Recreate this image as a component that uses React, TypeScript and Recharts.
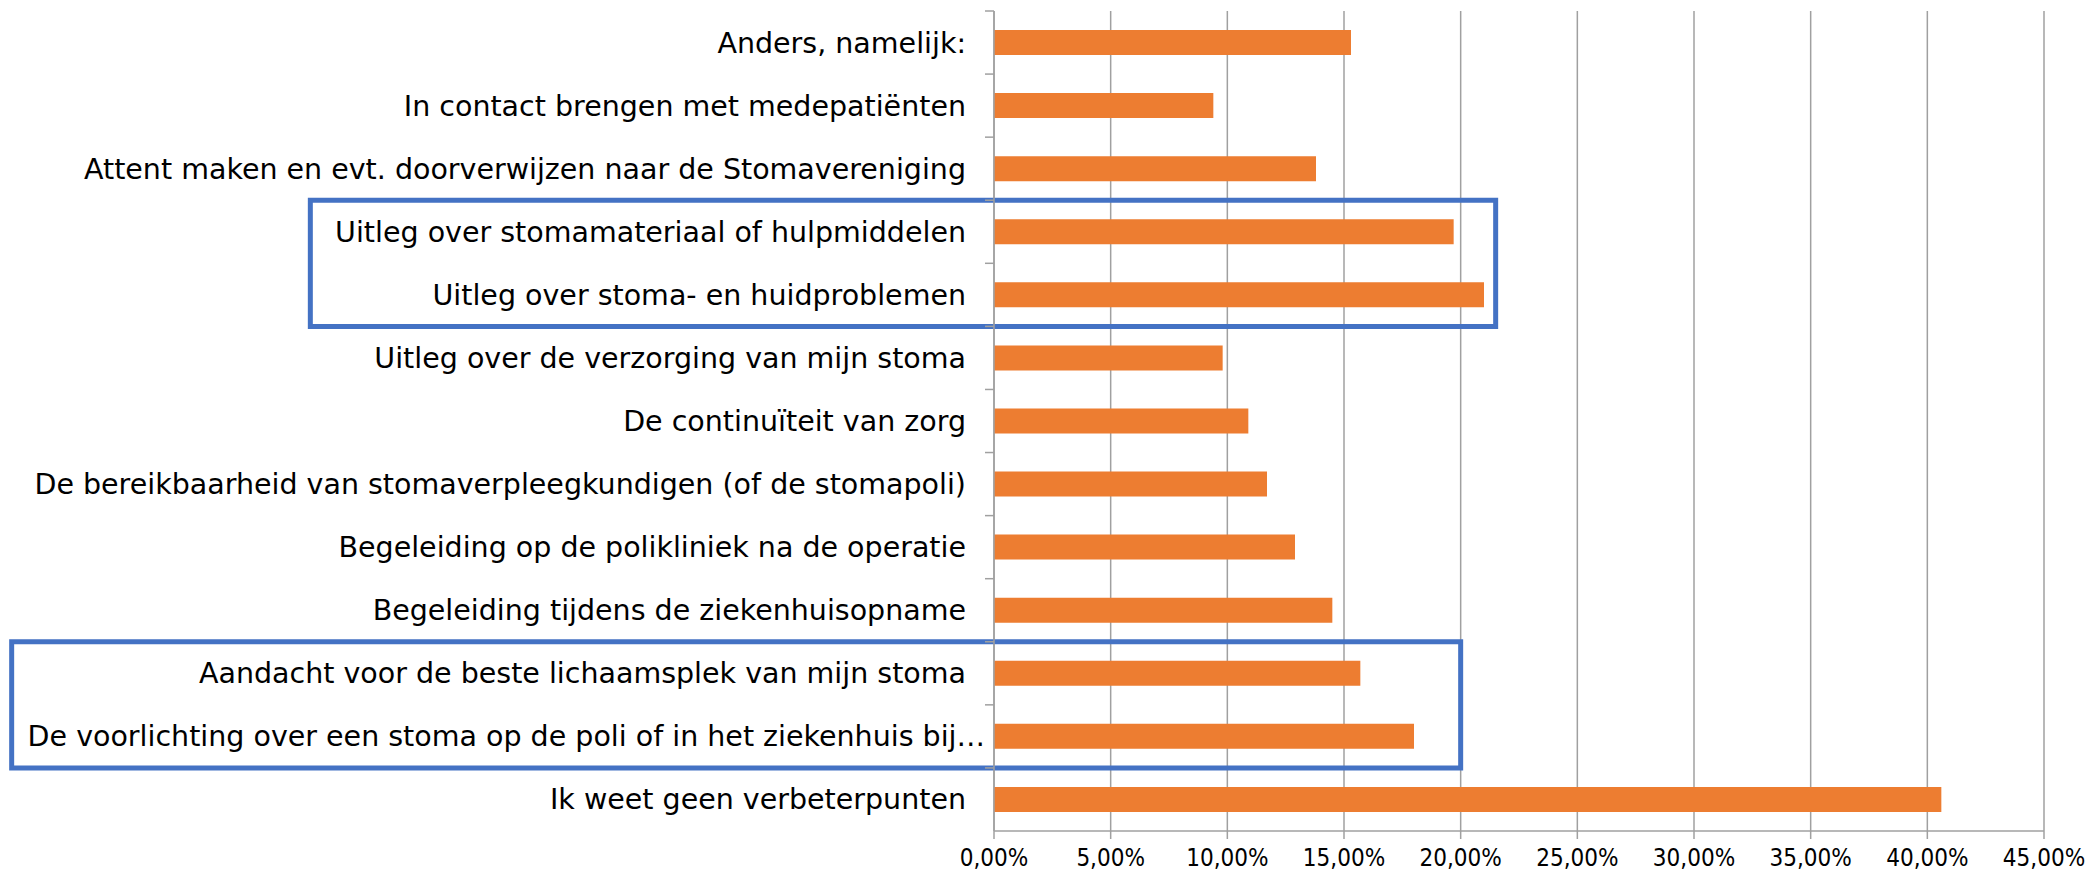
import { Bar, BarChart, CartesianGrid, ReferenceArea, XAxis, YAxis } from 'recharts'

const LABELS = [
  'Anders, namelijk:',
  'In contact brengen met medepatiënten',
  'Attent maken en evt. doorverwijzen naar de Stomavereniging',
  'Uitleg over stomamateriaal of hulpmiddelen',
  'Uitleg over stoma- en huidproblemen',
  'Uitleg over de verzorging van mijn stoma',
  'De continuïteit van zorg',
  'De bereikbaarheid van stomaverpleegkundigen (of de stomapoli)',
  'Begeleiding op de polikliniek na de operatie',
  'Begeleiding tijdens de ziekenhuisopname',
  'Aandacht voor de beste lichaamsplek van mijn stoma',
  'De voorlichting over een stoma op de poli of in het ziekenhuis bij…',
  'Ik weet geen verbeterpunten',
]

const VALUES = [0.153, 0.094, 0.138, 0.197, 0.21, 0.098, 0.109, 0.117, 0.129, 0.145, 0.157, 0.18, 0.406]

const X_TICKS = [0, 0.05, 0.1, 0.15, 0.2, 0.25, 0.3, 0.35, 0.4, 0.45]

// highlight boxes: [first category, last category, left value, right value]
const BOXES: [number, number, number, number][] = [
  [3, 4, -0.293, 0.215],
  [10, 11, -0.421, 0.2],
]

const data = LABELS.map((name, i) => ({ name, value: VALUES[i] }))

const FONT = '"DejaVu Sans", sans-serif'
const GRID = '#a0a0a0'

const pct = (v: number) => (v * 100).toFixed(2).replace('.', ',') + '%'

function CatTick(props: any) {
  const { x, y, payload } = props
  const label: string = payload.value
  const half = payload.offset || 31.5
  // excel leaves a gap after full labels, truncated ones run up to the axis
  const shift = label.endsWith('…') ? 0 : 19
  return (
    <g>
      <line x1={x} x2={x + 9} y1={y - half} y2={y - half} stroke={GRID} strokeWidth={1.5} />
      <text x={x - shift} y={y} dy="0.35em" textAnchor="end" fontSize={28.5} fontFamily={FONT} fill="#000">
        {label}
      </text>
    </g>
  )
}

export default function App() {
  return (
    <div style={{ position: 'absolute', left: 0, top: 0, background: '#fff' }}>
      <BarChart
        width={2093}
        height={877}
        data={data}
        layout="vertical"
        margin={{ top: 11, right: 49, bottom: 0, left: 0 }}
        barCategoryGap={0}
      >
        <CartesianGrid horizontal={false} stroke={GRID} strokeWidth={1.5} />
        <XAxis
          type="number"
          domain={[0, 0.45]}
          ticks={X_TICKS}
          tickFormatter={pct}
          height={46}
          stroke={GRID}
          strokeWidth={1.5}
          tickSize={8}
          tickMargin={10}
          tick={{ fontSize: 24, fill: '#000', fontFamily: '"DejaVu Sans Condensed", "DejaVu Sans", sans-serif' }}
          interval={0}
        />
        <YAxis
          type="category"
          dataKey="name"
          width={994}
          stroke={GRID}
          strokeWidth={1.5}
          tickLine={false}
          tickSize={9}
          tickMargin={0}
          tick={<CatTick />}
          interval={0}
        />
        <Bar dataKey="value" fill="#ed7d31" barSize={25} isAnimationActive={false} />
        {BOXES.map(([a, b, x1, x2], i) => (
          <ReferenceArea
            key={i}
            y1={LABELS[a]}
            y2={LABELS[b]}
            x1={x1}
            x2={x2}
            ifOverflow="visible"
            fill="none"
            stroke="#4472c4"
            strokeWidth={5}
          />
        ))}
      </BarChart>
    </div>
  )
}
